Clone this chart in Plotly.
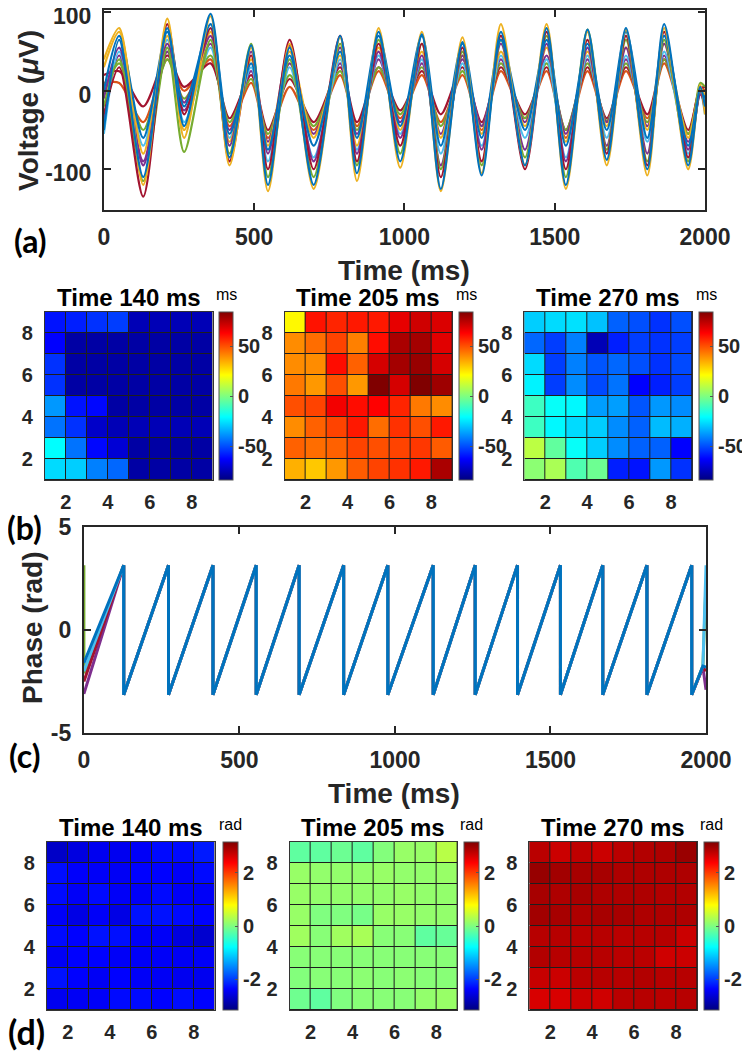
import plotly.graph_objects as go

# the page body adds an 8 px offset; target coordinates below are screenshot pixels
OX, OY = 8, 8
W, H = 742, 1047
ML, MR, MT, MB = 0, 30, 0, 0
PW, PH = W - ML - MR, H - MT - MB
FONT = "Liberation Sans, Arial, sans-serif"
LABEL_FONT = "Lato, Liberation Sans, sans-serif"
INK = "#262626"

def px(x):
    return (x - OX - ML) / PW

def py(y):
    return 1 - (y - OY - MT) / PH

# ---------------- (a) Voltage traces (values at read peaks / troughs) ----------------
time_ms = [0, 51, 131, 211, 267, 355, 418, 490, 546, 618, 698, 786, 842, 914, 986,
           1058, 1121, 1193, 1257, 1321, 1401, 1473, 1537, 1609, 1673, 1737, 1808,
           1864, 1944, 1984, 2000]

v_orange = [10, 10, -40, 40, 0, 40, -45, 10, -60, 5, -50, 20, -45, 25, -35,
            20, -40, 20, -50, 25, -35, 25, -60, 25, -40, 25, -35, 35, -55, 5, 0]
v_red2 = [20, 25, -20, 45, 5, 35, -35, 20, -50, 15, -40, 30, -40, 30, -25,
          25, -30, 30, -40, 30, -30, 30, -50, 30, -35, 30, -30, 40, -50, 3, 5]
v_green2 = [-5, 35, -50, 40, -10, 45, -40, 15, -55, 20, -45, 25, -50, 30, -30,
            30, -45, 25, -45, 35, -35, 35, -50, 35, -38, 35, -40, 40, -55, 0, -8]
v_purple2 = [-40, 45, -90, 50, -25, 60, -50, 25, -65, 35, -55, 35, -55, 40, -40,
             35, -55, 40, -45, 40, -40, 45, -55, 40, -40, 40, -45, 45, -65, -3, -20]
v_cyan = [-55, 50, -70, 65, -40, 55, -60, 30, -90, 30, -85, 40, -75, 45, -55,
          40, -80, 35, -70, 45, -60, 40, -85, 45, -60, 45, -65, 50, -80, -2, -30]
v_yellow2 = [30, 75, -80, 70, -50, 75, -65, 40, -70, 50, -60, 45, -70, 55, -50,
             50, -60, 45, -55, 50, -45, 55, -65, 50, -45, 55, -50, 60, -60, 2, -5]
v_purple = [-10, 55, -95, 60, -15, 70, -70, 50, -80, 58, -90, 55, -80, 50, -60,
            45, -95, 45, -75, 60, -75, 60, -90, 55, -70, 55, -80, 60, -75, -5, -15]
v_green = [-20, 40, -115, 55, -78, 65, -80, 60, -110, 40, -110, 60, -95, 65, -80,
           60, -100, 50, -95, 65, -85, 70, -110, 78, -75, 65, -90, 65, -90, 10, 5]
v_red = [-30, 30, -135, 85, -30, 80, -90, 45, -100, 65, -100, 70, -90, 60, -70,
         60, -110, 55, -90, 70, -100, 75, -100, 65, -80, 70, -95, 75, -85, 0, -25]
v_blue2 = [0, 70, -60, 75, -20, 85, -55, 35, -75, 45, -70, 50, -60, 70, -45,
           70, -70, 60, -60, 65, -50, 65, -70, 60, -50, 75, -60, 70, -70, 0, -10]
v_yellow = [40, 80, -120, 92, -60, 95, -95, 55, -128, 60, -125, 68, -115, 80, -98,
            75, -128, 68, -105, 85, -95, 85, -125, 75, -95, 78, -108, 80, -100, 8, -30]
v_blue = [-50, 65, -110, 80, -45, 98, -85, 58, -120, 55, -120, 70, -105, 75, -90,
          72, -125, 62, -108, 75, -95, 80, -120, 78, -88, 80, -100, 85, -95, 5, -20]

voltage_series = [
    (v_orange, "#D95319"), (v_red2, "#A2142F"), (v_green2, "#77AC30"),
    (v_purple2, "#7E2F8E"), (v_cyan, "#4DBEEE"), (v_yellow2, "#EDB120"),
    (v_purple, "#7E2F8E"), (v_green, "#77AC30"), (v_red, "#A2142F"),
    (v_blue2, "#0072BD"), (v_yellow, "#EDB120"), (v_blue, "#0072BD"),
]

# ---------------- (c) Phase: wrap times and per-channel start / end values ----------------
PI = 3.14159
phase_wrap_ms = [128, 272, 415, 554, 692, 835, 977, 1123, 1258, 1394, 1532, 1668, 1810, 1954]
phase_head = {
    "#77AC30": [3.14, -2.1],
    "#7E2F8E": [-3.1],
    "#A2142F": [-2.5],
    "#4DBEEE": [-2.0],
    "#0072BD": [-1.6],
}
phase_tail_ms = [1990, 2000]
phase_tail = {
    "#77AC30": [-1.75, 2.3],
    "#7E2F8E": [-1.8, -2.9],
    "#A2142F": [-1.8, -2.0],
    "#4DBEEE": [-1.75, 3.14],
    "#0072BD": [-1.75, -1.8],
}

# ---------------- (b) latency maps (ms), rows listed top (y=8) to bottom (y=1) ----------------
lat_140 = [
    [-60, -58, -55, -53, -75, -75, -75, -75],
    [-63, -78, -78, -78, -78, -78, -78, -78],
    [-55, -78, -78, -78, -78, -78, -78, -78],
    [-55, -78, -78, -78, -78, -78, -78, -78],
    [-38, -60, -62, -78, -78, -78, -78, -78],
    [-44, -55, -72, -75, -75, -75, -75, -75],
    [-21, -44, -62, -70, -78, -78, -78, -78],
    [-27, -29, -42, -46, -78, -78, -78, -78],
]
lat_205 = [
    [22, 60, 57, 59, 59, 67, 71, 69],
    [40, 45, 52, 42, 61, 77, 78, 68],
    [40, 40, 61, 47, 70, 78, 80, 70],
    [43, 38, 50, 38, 84, 70, 84, 79],
    [50, 52, 65, 61, 63, 57, 43, 40],
    [40, 47, 52, 59, 45, 55, 50, 59],
    [47, 45, 47, 52, 50, 52, 54, 48],
    [34, 30, 38, 48, 52, 55, 59, 77],
]
lat_270 = [
    [-29, -27, -26, -31, -47, -50, -55, -50],
    [-46, -53, -42, -75, -58, -53, -55, -53],
    [-27, -53, -42, -49, -46, -50, -55, -51],
    [-23, -53, -40, -51, -44, -63, -58, -53],
    [-11, -20, -22, -37, -37, -49, -38, -40],
    [-11, -22, -27, -29, -40, -47, -32, -34],
    [10, -5, -20, -29, -40, -47, -47, -63],
    [2, 7, -8, -3, -58, -60, -38, -55],
]

# ---------------- (d) phase maps (rad), rows top to bottom ----------------
ph_140 = [
    [-2.70, -2.55, -2.45, -2.45, -2.40, -2.30, -2.30, -2.20],
    [-2.28, -2.38, -2.40, -2.42, -2.35, -2.35, -2.40, -2.30],
    [-2.30, -2.40, -2.30, -2.40, -2.40, -2.30, -2.40, -2.40],
    [-2.40, -2.52, -2.40, -2.52, -2.25, -2.25, -2.30, -2.35],
    [-2.30, -2.35, -2.25, -2.27, -2.40, -2.40, -2.55, -2.65],
    [-2.42, -2.35, -2.35, -2.40, -2.40, -2.40, -2.42, -2.40],
    [-2.25, -2.35, -2.42, -2.35, -2.40, -2.42, -2.45, -2.45],
    [-2.45, -2.42, -2.40, -2.30, -2.30, -2.35, -2.28, -2.35],
]
ph_205 = [
    [-0.20, -0.20, -0.12, -0.20, 0.02, 0.15, 0.15, 0.35],
    [0.15, 0.12, 0.12, 0.12, 0.15, 0.12, 0.12, 0.15],
    [0.15, 0.12, 0.12, 0.12, 0.12, 0.15, 0.12, 0.12],
    [0.15, 0.00, 0.00, -0.05, 0.15, 0.15, 0.12, 0.12],
    [0.20, 0.05, 0.20, 0.25, 0.05, 0.05, -0.20, -0.15],
    [0.05, 0.05, 0.05, 0.05, 0.05, 0.05, 0.05, 0.05],
    [0.02, 0.05, 0.05, 0.08, 0.05, 0.08, 0.05, 0.05],
    [-0.10, -0.20, 0.00, 0.05, 0.05, 0.05, 0.12, 0.15],
]
ph_270 = [
    [2.78, 2.68, 2.75, 2.68, 2.78, 2.83, 2.86, 2.98],
    [3.00, 2.93, 2.90, 2.90, 2.86, 2.86, 2.86, 2.86],
    [2.90, 2.86, 2.90, 2.86, 2.86, 2.86, 2.83, 2.83],
    [2.93, 2.90, 2.86, 2.90, 2.90, 2.86, 2.86, 2.86],
    [2.80, 2.80, 2.78, 2.80, 2.78, 2.80, 2.80, 2.68],
    [2.83, 2.80, 2.80, 2.80, 2.78, 2.78, 2.65, 2.68],
    [2.70, 2.68, 2.78, 2.80, 2.80, 2.83, 2.80, 2.80],
    [2.60, 2.60, 2.68, 2.65, 2.78, 2.80, 2.78, 2.80],
]

map_titles = ["Time 140 ms", "Time 205 ms", "Time 270 ms"]
grid_edges = [1, 2, 3, 4, 5, 6, 7, 8, 9]
grid_ticks = [2, 4, 6, 8]

JET = [[0.0, "rgb(0,0,128)"], [0.125, "rgb(0,0,255)"], [0.375, "rgb(0,255,255)"],
       [0.625, "rgb(255,255,0)"], [0.875, "rgb(255,0,0)"], [1.0, "rgb(128,0,0)"]]

fig = go.Figure()

# (a)
for vals, col in voltage_series:
    fig.add_trace(go.Scatter(x=time_ms, y=vals, mode="lines", xaxis="x", yaxis="y",
                             line=dict(color=col, width=2.2, shape="spline", smoothing=0.8),
                             showlegend=False, hoverinfo="skip"))

# (c)
for col, head in phase_head.items():
    xs = [0] * len(head)
    ys = list(head)
    for w in phase_wrap_ms:
        xs += [w, w]
        ys += [PI, -PI]
    xs += phase_tail_ms
    ys += phase_tail[col]
    fig.add_trace(go.Scatter(x=xs, y=ys, mode="lines", xaxis="x2", yaxis="y2",
                             line=dict(color=col, width=3), showlegend=False,
                             hoverinfo="skip"))

tick_font = dict(family=FONT, size=23, color=INK, weight="bold")
small_tick_font = dict(family=FONT, size=20, color=INK, weight="bold")

# heatmaps (pixel boxes: 8 cells x 21 px)
maps = [
    (lat_140, -84, 84, [45, 213], 219, 312, 480, [-50, 0, 50]),
    (lat_205, -84, 84, [285, 453], 459, 312, 480, [-50, 0, 50]),
    (lat_270, -84, 84, [525, 693], 699, 312, 480, [-50, 0, 50]),
    (ph_140, -PI, PI, [47, 215], 223, 842, 1010, [-2, 0, 2]),
    (ph_205, -PI, PI, [290, 458], 464, 842, 1010, [-2, 0, 2]),
    (ph_270, -PI, PI, [530, 698], 704, 842, 1010, [-2, 0, 2]),
]

layout_axes = {}
shapes = []
for i, (rows, zmin, zmax, xdom, cbx, ytop, ybot, cbt) in enumerate(maps):
    n = i + 3
    xa, ya = f"x{n}", f"y{n}"
    fig.add_trace(go.Heatmap(
        z=rows[::-1], x=grid_edges, y=grid_edges, zmin=zmin, zmax=zmax,
        colorscale=JET, xgap=1, ygap=1, xaxis=xa, yaxis=ya, hoverinfo="skip",
        colorbar=dict(x=px(cbx), xanchor="left", y=py(ytop), yanchor="top",
                      len=(ybot - ytop) / PH, lenmode="fraction",
                      thickness=15 if i >= 3 else 14, thicknessmode="pixels",
                      xpad=0, ypad=0, outlinewidth=1, outlinecolor="#555",
                      tickvals=cbt, ticktext=[str(t) for t in cbt],
                      ticks="inside", ticklen=3, tickcolor="#555",
                      tickfont=small_tick_font)))
    layout_axes[f"xaxis{n}"] = dict(domain=[px(xdom[0]), px(xdom[1])], range=[1, 9],
                                    anchor=ya, tickvals=grid_ticks, ticks="",
                                    tickfont=small_tick_font, ticklabelstandoff=4,
                                    showline=True, mirror=True, linecolor="#333",
                                    linewidth=1, showgrid=False, zeroline=False,
                                    automargin=False, ticklabeloverflow="allow")
    layout_axes[f"yaxis{n}"] = dict(domain=[py(ybot), py(ytop)], range=[1, 9],
                                    anchor=xa, tickvals=grid_ticks, ticks="",
                                    tickfont=small_tick_font, ticklabelstandoff=7,
                                    showline=True, mirror=True, linecolor="#333",
                                    linewidth=1, showgrid=False, zeroline=False,
                                    automargin=False, ticklabeloverflow="allow")
    shapes.append(dict(type="rect", xref=xa, yref=ya, x0=1, x1=9, y0=1, y1=9,
                       fillcolor="#1e1e1e", line=dict(width=0), layer="below"))

axis_common = dict(showline=True, mirror="ticks", linecolor=INK, linewidth=2,
                   ticks="inside", ticklen=7, tickwidth=2, tickcolor=INK,
                   showgrid=False, zeroline=False, tickfont=tick_font,
                   automargin=False, ticklabeloverflow="allow")

annotations = []

def note(text, x, y, size, family=FONT, bold=True, angle=0, color="black"):
    annotations.append(dict(text=text, x=px(x), y=py(y), xref="paper", yref="paper",
                            xanchor="center", yanchor="middle", showarrow=False,
                            textangle=angle,
                            font=dict(family=family, size=size, color=color,
                                      weight="bold" if bold else "normal")))

note("Voltage (<i>μ</i>V)", 28, 110, 28, angle=-90, color=INK)
note("Time (ms)", 405, 270, 28, color=INK)
note("Phase (rad)", 32, 627, 28, angle=-90, color=INK)
note("Time (ms)", 395, 793, 28, color=INK)
for (rows, zmin, zmax, xdom, cbx, ytop, ybot, cbt), k in zip(maps, range(6)):
    note(map_titles[k % 3], (xdom[0] + xdom[1]) / 2, ytop - 15, 24)
    note("ms" if k < 3 else "rad", cbx + 8, ytop - 18, 16, bold=False)
note("(a)", 31, 240, 32, family=LABEL_FONT)
note("(b)", 25, 527, 32, family=LABEL_FONT)
note("(c)", 25, 755, 32, family=LABEL_FONT)
note("(d)", 27, 1031, 34, family=LABEL_FONT)

fig.update_layout(
    width=W, height=H, autosize=False,
    margin=dict(l=ML, r=MR, t=MT, b=MB, pad=0),
    paper_bgcolor="white", plot_bgcolor="white",
    showlegend=False,
    xaxis=dict(domain=[px(104), px(706)], range=[0, 2000], anchor="y",
               tickvals=[0, 500, 1000, 1500, 2000], ticklabelstandoff=5, **axis_common),
    yaxis=dict(domain=[py(210), py(10)], range=[-152, 103], anchor="x",
               tickvals=[-100, 0, 100], ticktext=["-100", "0", "100"],
               ticklabelstandoff=6, ticklabelshift=4, **axis_common),
    xaxis2=dict(domain=[px(84), px(707)], range=[0, 2000], anchor="y2",
                tickvals=[0, 500, 1000, 1500, 2000], ticklabelstandoff=5, **axis_common),
    yaxis2=dict(domain=[py(733), py(527)], range=[-5, 5], anchor="x2",
                tickvals=[-5, 0, 5], ticktext=["-5", "0", "5"],
                ticklabelstandoff=6, **axis_common),
    shapes=shapes,
    annotations=annotations,
    **layout_axes,
)

fig.write_html("out.html")
